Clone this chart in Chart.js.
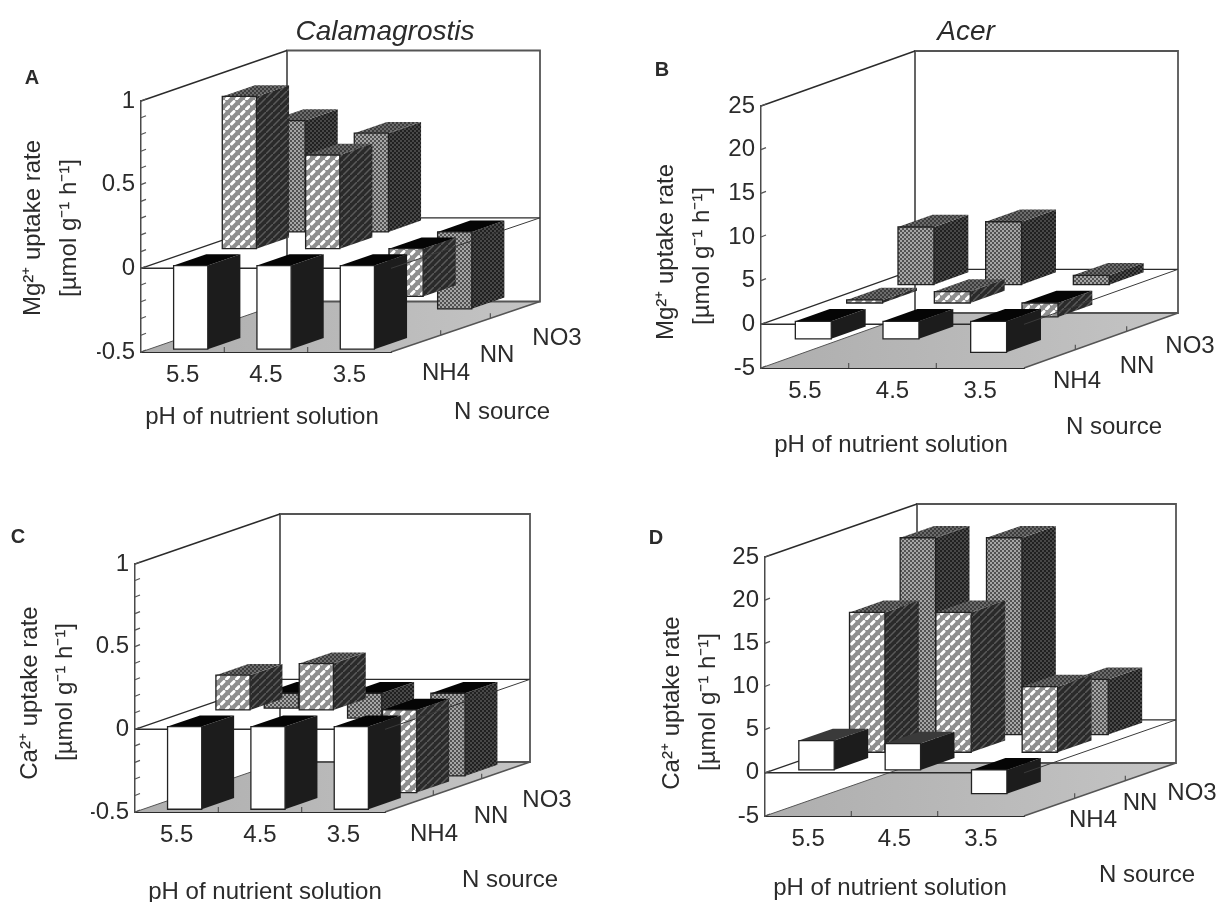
<!DOCTYPE html>
<html lang="en">
<head>
<meta charset="UTF-8">
<title>Mg and Ca uptake rates</title>
<script src="https://cdn.jsdelivr.net/npm/chart.js"></script>
<style>
    html, body { margin: 0; background: #fff; }
    #page { position: relative; width: 1222px; height: 902px; overflow: hidden; filter: blur(0.75px); }
    canvas { position: absolute; left: 0; top: 0; }
</style>
</head>
<body>
<div id="page">
    <canvas id="panelA" width="1222" height="902"></canvas>
    <canvas id="panelB" width="1222" height="902"></canvas>
    <canvas id="panelC" width="1222" height="902"></canvas>
    <canvas id="panelD" width="1222" height="902"></canvas>
</div>
<script>
    const phLabels = ["5.5", "4.5", "3.5"];
    const nSources = ["NH4", "NN", "NO3"];

    // values, order follows phLabels
    const mgCalamagrostisNH4 = [-0.5, -0.5, -0.5];
    const mgCalamagrostisNN = [0.91, 0.56, -0.285];
    const mgCalamagrostisNO3 = [0.665, 0.59, -0.46];

    const mgAcerNH4 = [-2, -2, -3.55];
    const mgAcerNN = [0.35, 1.3, -1.6];
    const mgAcerNO3 = [6.6, 7.2, 1.07];

    const caCalamagrostisNH4 = [-0.5, -0.5, -0.5];
    const caCalamagrostisNN = [0.21, 0.28, -0.5];
    const caCalamagrostisNO3 = [-0.09, -0.15, -0.5];

    const caAcerNH4 = [3.4, 3.05, -2.75];
    const caAcerNN = [16.2, 16.2, 7.6];
    const caAcerNO3 = [22.8, 22.8, 6.4];

    const FONT = "'Liberation Sans', Arial, sans-serif";
    const INK = "#2b2b2b";

    function tile(size, paint) {
        const c = document.createElement("canvas");
        c.width = size;
        c.height = size;
        paint(c.getContext("2d"));
        return document.createElement("canvas").getContext("2d").createPattern(c, "repeat");
    }

    // white diagonal dashes on grey, front of NN bars
    const nnFront = tile(10, g => {
        g.fillStyle = "#8f8f8f";
        g.fillRect(0, 0, 10, 10);
        g.strokeStyle = "#ffffff";
        g.lineWidth = 3;
        g.lineCap = "round";
        g.beginPath();
        g.moveTo(1.5, 4);
        g.lineTo(4, 1.5);
        g.moveTo(6.5, 9);
        g.lineTo(9, 6.5);
        g.stroke();
    });
    const nnSide = tile(7, g => {
        g.fillStyle = "#2a2a2a";
        g.fillRect(0, 0, 7, 7);
        g.strokeStyle = "#5a5a5a";
        g.lineWidth = 1.5;
        g.beginPath();
        g.moveTo(-1, 8);
        g.lineTo(8, -1);
        g.stroke();
    });
    const no3Front = tile(4, g => {
        g.fillStyle = "#525252";
        g.fillRect(0, 0, 4, 4);
        g.fillStyle = "#a6a6a6";
        g.fillRect(0, 0, 2, 2);
        g.fillRect(2, 2, 2, 2);
    });
    const no3Side = tile(4, g => {
        g.fillStyle = "#202020";
        g.fillRect(0, 0, 4, 4);
        g.fillStyle = "#484848";
        g.fillRect(0, 0, 2, 2);
        g.fillRect(2, 2, 2, 2);
    });
    const topStipple = tile(4, g => {
        g.fillStyle = "#3c3c3c";
        g.fillRect(0, 0, 4, 4);
        g.fillStyle = "#6c6c6c";
        g.fillRect(0, 0, 2, 2);
        g.fillRect(2, 2, 2, 2);
    });

    const faces = [
        { front: "#ffffff", side: "#1c1c1c", top: "#3a3a3a" },
        { front: nnFront, side: nnSide, top: topStipple },
        { front: no3Front, side: no3Side, top: topStipple }
    ];

    function poly(ctx, pts, fill, stroke, width) {
        ctx.beginPath();
        pts.forEach((p, i) => i ? ctx.lineTo(p[0], p[1]) : ctx.moveTo(p[0], p[1]));
        if (fill) {
            ctx.closePath();
            ctx.fillStyle = fill;
            ctx.fill();
        }
        if (stroke) {
            ctx.strokeStyle = stroke;
            ctx.lineWidth = width || 1;
            ctx.stroke();
        }
    }

    function text(ctx, str, x, y, font, rotate) {
        ctx.save();
        ctx.translate(x, y);
        if (rotate) ctx.rotate(-Math.PI / 2);
        ctx.font = font;
        ctx.fillStyle = INK;
        ctx.textAlign = "center";
        ctx.textBaseline = "middle";
        ctx.fillText(str, 0, 0);
        ctx.restore();
    }

    // walls, floor and zero plane go under the bars
    const box3d = {
        id: "box3d",
        beforeDatasetsDraw(chart, args, opts) {
            const ctx = chart.ctx;
            const xs = chart.scales.x, ys = chart.scales.y;
            const l = xs.left, r = xs.right, b = ys.bottom, t = ys.top, z = ys.getPixelForValue(0);
            const dx = opts.dx, dy = opts.dy;
            const bx = r + dx + (opts.backExtra || 0);
            ctx.save();
            const floor = ctx.createLinearGradient(l, 0, bx, 0);
            floor.addColorStop(0, "#aeaeae");
            floor.addColorStop(1, "#c4c4c4");
            poly(ctx, [[l, b], [r, b], [bx, b - dy], [l + dx, b - dy]], floor);
            const wall = "#555555";
            poly(ctx, [[l + dx, b - dy], [l + dx, t - dy], [bx, t - dy], [bx, b - dy], [l + dx, b - dy]], null, wall, 1.8);
            poly(ctx, [[l, t], [l + dx, t - dy]], null, INK, 1.5);
            poly(ctx, [[r, b], [bx, b - dy]], null, wall, 1.5);
            poly(ctx, [[l, b], [l + dx, b - dy]], null, wall, 1);
            poly(ctx, [[l, z], [r, z]], null, INK, 1.5);
            poly(ctx, [[l, z], [l + dx, z - dy], [bx, z - dy]], null, INK, 1.3);
            // y ticks point inward along the left wall
            ys.ticks.forEach(tk => {
                const py = ys.getPixelForValue(tk.value);
                poly(ctx, [[l, py], [l + 5, py - 2]], null, wall, 1.2);
            });
            // floor ticks at the slot boundaries
            [1, 2].forEach(i => {
                const px = l + (r - l) * i / 3;
                poly(ctx, [[px, b], [px, b - 5]], null, wall, 1.2);
                const qx = r + (bx - r) * i / 3, qy = b - dy * i / 3;
                poly(ctx, [[qx, qy], [qx, qy - 5]], null, wall, 1.2);
            });
            ctx.restore();
        },
        afterDatasetsDraw(chart, args, opts) {
            const ctx = chart.ctx;
            const xs = chart.scales.x, ys = chart.scales.y;
            const dx = opts.dx, dy = opts.dy;
            const slot = (xs.right - xs.left) / phLabels.length;
            const barW = slot * 0.41;
            const rowFrac = 1 / nSources.length;
            const barD = rowFrac * 0.67;
            ctx.save();
            // back row first so the nearer bars cover it
            for (let row = nSources.length - 1; row >= 0; row--) {
                const values = chart.data.datasets[row].data;
                const frac = row * rowFrac + (rowFrac - barD) / 2;
                const sx = dx * frac, sy = dy * frac;
                const ox = dx * barD, oy = dy * barD;
                const look = faces[row];
                values.forEach((v, i) => {
                    const x0 = xs.getPixelForValue(i) - barW / 2 + sx;
                    const x1 = x0 + barW;
                    const yv = ys.getPixelForValue(v) - sy;
                    const y0 = ys.getPixelForValue(0) - sy;
                    const top = Math.min(yv, y0), bot = Math.max(yv, y0);
                    const edge = "#222222";
                    poly(ctx, [[x1, top], [x1 + ox, top - oy], [x1 + ox, bot - oy], [x1, bot]], look.side);
                    poly(ctx, [[x0, top], [x0 + ox, top - oy], [x1 + ox, top - oy], [x1, top]], v > 0 ? look.top : "#050505");
                    poly(ctx, [[x0, top], [x1, top], [x1, bot], [x0, bot]], look.front, edge, 1.3);
                });
            }
            // this edge of the zero plane shows over the bars in the scan
            const r = xs.right, z = ys.getPixelForValue(0);
            poly(ctx, [[r, z], [r + dx + (opts.backExtra || 0), z - dy]], null, "#3a3a3a", 1);
            ctx.restore();

            const lab = opts.labels;
            text(ctx, opts.letter, lab.letter[0], lab.letter[1], "bold 20px " + FONT);
            if (opts.species) text(ctx, opts.species, lab.species[0], lab.species[1], "italic 28px " + FONT);
            nSources.forEach((s, i) => text(ctx, s, lab.n[i][0], lab.n[i][1], "24px " + FONT));
            text(ctx, "N source", lab.source[0], lab.source[1], "24px " + FONT);
            text(ctx, "pH of nutrient solution", lab.ph[0], lab.ph[1], "24px " + FONT);
            text(ctx, opts.ion + " uptake rate", lab.title1[0], lab.title1[1], "24px " + FONT, true);
            text(ctx, "[\u00b5mol g\u207b\u00b9 h\u207b\u00b9]", lab.title2[0], lab.title2[1], "24px " + FONT, true);
        }
    };

    function createPanel(canvasId, series, axis, frame, opts) {
        const axisGutter = 44, labelGutter = 32;
        new Chart(document.getElementById(canvasId), {
            type: "bar",
            data: {
                labels: phLabels,
                datasets: series.map((values, i) => ({
                    label: nSources[i],
                    data: values,
                    backgroundColor: "transparent",
                    borderWidth: 0
                }))
            },
            plugins: [box3d],
            options: {
                responsive: false,
                animation: false,
                layout: {
                    autoPadding: false,
                    padding: {
                        left: frame.left - axisGutter,
                        right: 1222 - frame.right,
                        top: frame.top,
                        bottom: 902 - frame.bottom - labelGutter
                    }
                },
                plugins: {
                    legend: { display: false },
                    title: { display: false },
                    tooltip: { enabled: false },
                    box3d: opts
                },
                scales: {
                    x: {
                        afterFit: s => { s.height = labelGutter; },
                        grid: { display: false, drawTicks: false },
                        border: { display: true, color: INK, width: 2 },
                        ticks: { color: INK, padding: 9, maxRotation: 0, font: { family: FONT, size: 24 } }
                    },
                    y: {
                        min: axis.min,
                        max: axis.max,
                        afterFit: s => { s.width = axisGutter; },
                        grid: { display: false, drawTicks: false },
                        border: { display: true, color: "#4a4a4a", width: 1.5 },
                        ticks: {
                            stepSize: axis.step,
                            autoSkip: false,
                            color: INK,
                            padding: 6,
                            font: { family: FONT, size: 24 },
                            callback: v => {
                                const n = v / axis.labelStep;
                                return Math.abs(n - Math.round(n)) < 1e-6 ? String(Math.round(n) * axis.labelStep) : "";
                            }
                        }
                    }
                }
            }
        });
    }

    const fractionAxis = { min: -0.5, max: 1, step: 0.1, labelStep: 0.5 };
    const acerAxis = { min: -5, max: 25, step: 5, labelStep: 5 };

    createPanel("panelA", [mgCalamagrostisNH4, mgCalamagrostisNN, mgCalamagrostisNO3], fractionAxis,
        { left: 141, right: 391, top: 101, bottom: 352 },
        {
            dx: 146, dy: 50.5, backExtra: 3, letter: "A", species: "Calamagrostis", ion: "Mg\u00b2\u207a",
            labels: {
                letter: [32, 78], species: [385, 32],
                n: [[446, 373], [497, 355], [557, 338]],
                source: [502, 412], ph: [262, 417],
                title1: [33, 228], title2: [69, 228]
            }
        });

    createPanel("panelB", [mgAcerNH4, mgAcerNN, mgAcerNO3], acerAxis,
        { left: 761, right: 1024, top: 106, bottom: 368 },
        {
            dx: 154, dy: 55, letter: "B", species: "Acer", ion: "Mg\u00b2\u207a",
            labels: {
                letter: [662, 70], species: [966, 32],
                n: [[1077, 381], [1137, 366], [1190, 346]],
                source: [1114, 427], ph: [891, 445],
                title1: [666, 252], title2: [702, 256]
            }
        });

    createPanel("panelC", [caCalamagrostisNH4, caCalamagrostisNN, caCalamagrostisNO3], fractionAxis,
        { left: 135, right: 385, top: 564, bottom: 812 },
        {
            dx: 145, dy: 50, letter: "C", ion: "Ca\u00b2\u207a",
            labels: {
                letter: [18, 537],
                n: [[434, 834], [491, 816], [547, 800]],
                source: [510, 880], ph: [265, 892],
                title1: [30, 693], title2: [65, 692]
            }
        });

    createPanel("panelD", [caAcerNH4, caAcerNN, caAcerNO3], acerAxis,
        { left: 765, right: 1024, top: 557, bottom: 816 },
        {
            dx: 152, dy: 53, letter: "D", ion: "Ca\u00b2\u207a",
            labels: {
                letter: [656, 538],
                n: [[1093, 820], [1140, 803], [1192, 793]],
                source: [1147, 875], ph: [890, 888],
                title1: [672, 703], title2: [708, 702]
            }
        });
</script>
</body>
</html>
